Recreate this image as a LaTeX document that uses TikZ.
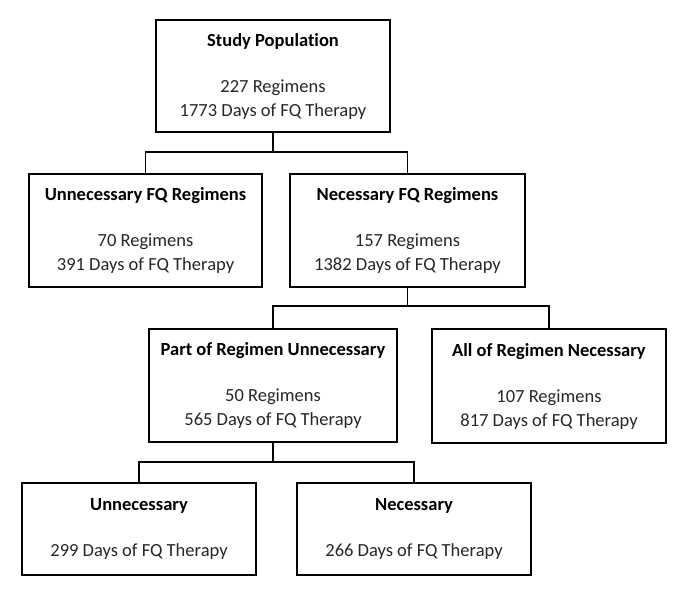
\documentclass[tikz,border=0pt]{standalone}
\usepackage{fontspec}
\setmainfont{Carlito}[Ligatures=NoCommon]
\begin{document}
\begin{tikzpicture}[x=1pt,y=-1pt,
  box/.style={draw, line width=2.2pt, inner sep=0pt, align=center, font=\fontsize{18.5}{24}\selectfont, text=black!85},
  conn/.style={line width=1.8pt, line join=miter}]
\useasboundingbox (0,0) rectangle (685,595);
\node[box, minimum width=234pt, minimum height=112pt] (b1) at (273,76)
  {\textbf{\color{black}Study Population}\\[22pt]227 Regimens\\1773 Days of FQ Therapy};
\node[box, minimum width=233pt, minimum height=113pt] (b2) at (145.5,230.5)
  {\textbf{\color{black}Unnecessary FQ Regimens}\\[22pt]70 Regimens\\391 Days of FQ Therapy};
\node[box, minimum width=235pt, minimum height=113pt] (b3) at (407.5,230.5)
  {\textbf{\color{black}Necessary FQ Regimens}\\[22pt]157 Regimens\\1382 Days of FQ Therapy};
\node[box, minimum width=248pt, minimum height=113pt] (b4) at (273,385.5)
  {\textbf{\color{black}Part of Regimen Unnecessary}\\[22pt]50 Regimens\\565 Days of FQ Therapy};
\node[box, minimum width=234pt, minimum height=114pt] (b5) at (549,386)
  {\textbf{\color{black}All of Regimen Necessary}\\[22pt]107 Regimens\\817 Days of FQ Therapy};
\node[box, minimum width=234pt, minimum height=92pt] (b6) at (139,529)
  {\textbf{\color{black}Unnecessary}\\[22pt]299 Days of FQ Therapy};
\node[box, minimum width=234pt, minimum height=92pt] (b7) at (414,529)
  {\textbf{\color{black}Necessary}\\[22pt]266 Days of FQ Therapy};
\coordinate (l1) at (0,152);
\coordinate (l2) at (0,306);
\coordinate (l3) at (0,462);
\draw[conn] (b1.south) -- (b1.south |- l1);
\draw[conn] (b2.north) |- (b3.north |- l1) -- (b3.north);
\draw[conn] (b3.south) -- (b3.south |- l2);
\draw[conn] (b4.north) |- (b5.north |- l2) -- (b5.north);
\draw[conn] (b4.south) -- (b4.south |- l3);
\draw[conn] (b6.north) |- (b7.north |- l3) -- (b7.north);
\end{tikzpicture}
\end{document}
